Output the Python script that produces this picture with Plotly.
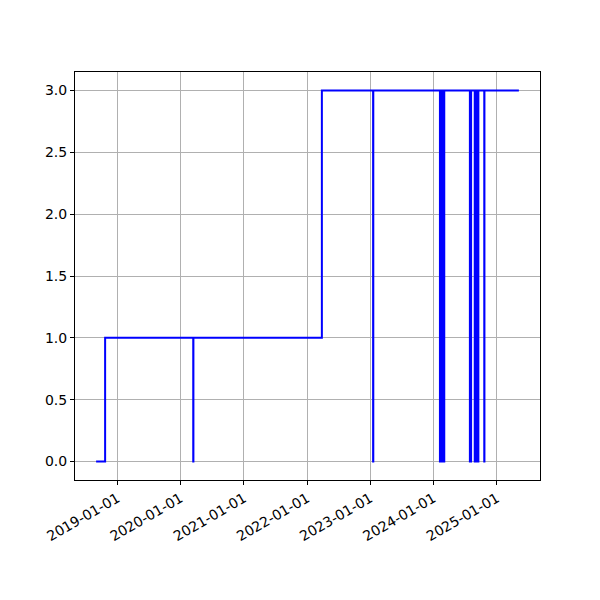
import plotly.graph_objects as go

# change points (step-post): value holds from this date until the next one
dates = [
    "2018-08-31", "2018-10-22",
    "2020-03-14", "2020-03-15",
    "2022-03-27",
    "2023-01-17", "2023-01-18",
    "2024-02-07", "2024-02-08", "2024-02-11", "2024-02-12", "2024-02-15", "2024-02-16",
    "2024-02-19", "2024-02-20", "2024-02-23", "2024-02-24", "2024-02-27", "2024-02-28",
    "2024-03-02", "2024-03-03",
    "2024-07-29", "2024-07-30", "2024-08-04", "2024-08-05",
    "2024-08-26", "2024-08-27", "2024-08-31", "2024-09-01", "2024-09-05", "2024-09-06",
    "2024-09-10", "2024-09-11", "2024-09-15", "2024-09-16",
    "2024-10-20", "2024-10-21",
    "2025-05-08",
]
values = [
    0, 1,
    0, 1,
    3,
    0, 3,
    0, 3, 0, 3, 0, 3,
    0, 3, 0, 3, 0, 3,
    0, 3,
    0, 3, 0, 3,
    0, 3, 0, 3, 0, 3,
    0, 3, 0, 3,
    0, 3,
    3,
]

x_ticks = ["2019-01-01", "2020-01-01", "2021-01-01", "2022-01-01",
           "2023-01-01", "2024-01-01", "2025-01-01"]
y_ticks = [0.0, 0.5, 1.0, 1.5, 2.0, 2.5, 3.0]

fig = go.Figure()
fig.add_trace(go.Scatter(
    x=dates, y=values, mode="lines", line_shape="hv",
    line=dict(color="blue", width=2), showlegend=False,
))

fig.update_layout(
    width=600, height=600,
    margin=dict(l=67, r=68, t=64, b=128),
    plot_bgcolor="white", paper_bgcolor="white",
    font=dict(family="DejaVu Sans", size=14, color="black"),
)
fig.update_xaxes(
    type="date",
    range=["2018-05-01", "2025-09-07"],
    tickvals=x_ticks, ticktext=x_ticks, tickangle=-30,
    showgrid=True, gridcolor="#b0b0b0", gridwidth=1,
    showline=True, linecolor="black", linewidth=1, mirror=True,
    ticks="outside", ticklen=4, tickcolor="black",
    zeroline=False,
)
fig.update_yaxes(
    range=[-0.15, 3.15],
    tickvals=y_ticks, tickformat=".1f",
    showgrid=True, gridcolor="#b0b0b0", gridwidth=1,
    showline=True, linecolor="black", linewidth=1, mirror=True,
    ticks="outside", ticklen=4, tickcolor="black",
    zeroline=False,
)

fig.write_html("out.html")
